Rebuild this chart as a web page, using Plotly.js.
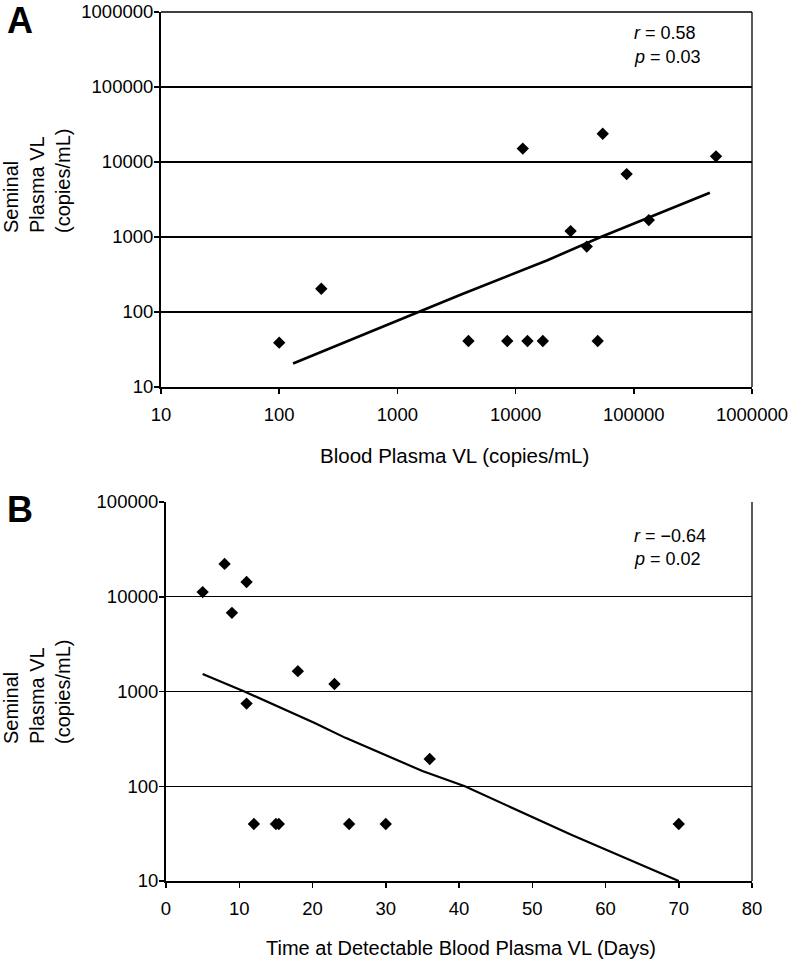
<!DOCTYPE html>
<html>
<head>
<meta charset="utf-8">
<script src="https://cdn.plot.ly/plotly-3.0.1.min.js"></script>
<style>html,body{margin:0;padding:0;background:#fff;}#chart{width:792px;height:961px;}</style>
</head>
<body>
<div id="chart"></div>
<script>
// Panel A: blood plasma VL vs seminal plasma VL
var bloodVL = [100, 227, 3990, 8500, 12600, 17000, 49500, 29200, 40000, 134000, 11500, 54600, 496000, 87000];
var seminalVL_A = [39, 204, 41, 41, 41, 41, 41, 1200, 745, 1680, 15100, 23800, 11900, 6900];
var trendA_x = [131, 1510, 3420, 18600, 52600, 440000];
var trendA_y = [20.6, 100, 170, 490, 1000, 3890];

// Panel B: time at detectable blood plasma VL vs seminal plasma VL
var daysDetectable = [5, 8, 11, 9, 18, 23, 11, 36, 12, 15, 15.4, 25, 30, 70];
var seminalVL_B = [11200, 22200, 14300, 6770, 1640, 1200, 745, 194, 40, 40, 40, 40, 40, 40];
var trendB_x = [5, 10.7, 20.3, 24.5, 35, 40.8, 55.4, 60.2, 70];
var trendB_y = [1530, 1000, 465, 324, 145, 100, 30.5, 21, 10];

var logTicksA = [10, 100, 1000, 10000, 100000, 1000000];
var logTickTextA = ["10", "100", "1000", "10000", "100000", "1000000"];
var logTicksB = [10, 100, 1000, 10000, 100000];
var logTickTextB = ["10", "100", "1000", "10000", "100000"];
var dayTicks = [0, 10, 20, 30, 40, 50, 60, 70, 80];

var W = 792, H = 961;
function px(x){return x / W;}
function py(y){return 1 - y / H;}

var FONT = "Liberation Sans, Arial, sans-serif";
var mk = {symbol: "diamond", size: 9.5, color: "#000"};
var traces = [
  {x: bloodVL, y: seminalVL_A, mode: "markers", type: "scatter", marker: mk, xaxis: "x", yaxis: "y"},
  {x: trendA_x, y: trendA_y, mode: "lines", type: "scatter", line: {color: "#000", width: 2.6}, xaxis: "x", yaxis: "y"},
  {x: daysDetectable, y: seminalVL_B, mode: "markers", type: "scatter", marker: mk, xaxis: "x2", yaxis: "y2"},
  {x: trendB_x, y: trendB_y, mode: "lines", type: "scatter", line: {color: "#000", width: 2.2}, xaxis: "x2", yaxis: "y2"}
];

var axCommon = {
  showline: true, linecolor: "#000", linewidth: 2,
  ticks: "outside", ticklen: 5, tickwidth: 1.5, tickcolor: "#000",
  tickfont: {family: FONT, size: 18.5, color: "#000"},
  ticklabeloverflow: "allow",
  zeroline: false, fixedrange: true
};

function merge(a, b){var o = {}; for (var k in a) o[k] = a[k]; for (var k2 in b) o[k2] = b[k2]; return o;}

var TOP_A = 12;
var layout = {
  width: W, height: H,
  margin: {l: 0, r: 0, t: 0, b: 0},
  paper_bgcolor: "#fff", plot_bgcolor: "#fff",
  showlegend: false,
  font: {family: FONT, size: 18, color: "#000"},
  xaxis: merge(axCommon, {type: "log", range: [0.9999, 6.0001], domain: [px(161), px(752)], anchor: "y",
    tickvals: logTicksA, ticktext: logTickTextA, showgrid: false, ticklabelstandoff: 5}),
  yaxis: merge(axCommon, {type: "log", range: [0.9999, 6.0001], domain: [py(387), py(TOP_A)], anchor: "x",
    tickvals: logTicksA, ticktext: logTickTextA, showgrid: true, gridcolor: "#000", gridwidth: 1.3, ticklabelstandoff: -3}),
  xaxis2: merge(axCommon, {type: "linear", range: [0, 80], domain: [px(166), px(752)], anchor: "y2",
    tickvals: dayTicks, showgrid: false, ticklabelstandoff: 5}),
  yaxis2: merge(axCommon, {type: "log", range: [0.9999, 5.0001], domain: [py(881), py(502)], anchor: "x2",
    tickvals: logTicksB, ticktext: logTickTextB, showgrid: true, gridcolor: "#000", gridwidth: 1.3, ticklabelstandoff: -3}),
  shapes: [
    {type: "line", xref: "paper", yref: "paper", x0: px(752), x1: px(752), y0: py(387), y1: py(TOP_A), line: {color: "#000", width: 1.3}},
    {type: "line", xref: "paper", yref: "paper", x0: px(161), x1: px(752), y0: py(TOP_A), y1: py(TOP_A), line: {color: "#000", width: 1.5}},
    {type: "line", xref: "paper", yref: "paper", x0: px(752), x1: px(752), y0: py(881), y1: py(502), line: {color: "#000", width: 1.3}}
  ],
  annotations: [
    {text: "<b>A</b>", xref: "paper", yref: "paper", x: px(20), y: py(21), showarrow: false, font: {size: 36, family: FONT}, xanchor: "center", yanchor: "middle"},
    {text: "<b>B</b>", xref: "paper", yref: "paper", x: px(20), y: py(510), showarrow: false, font: {size: 36, family: FONT}, xanchor: "center", yanchor: "middle"},
    {text: "<i>r</i> = 0.58", xref: "paper", yref: "paper", x: px(632), y: py(33), showarrow: false, xanchor: "left", yanchor: "middle", font: {size: 18}},
    {text: "<i>p</i> = 0.03", xref: "paper", yref: "paper", x: px(632), y: py(57), showarrow: false, xanchor: "left", yanchor: "middle", font: {size: 18}},
    {text: "<i>r</i> = \u22120.64", xref: "paper", yref: "paper", x: px(632), y: py(536), showarrow: false, xanchor: "left", yanchor: "middle", font: {size: 18}},
    {text: "<i>p</i> = 0.02", xref: "paper", yref: "paper", x: px(632), y: py(559), showarrow: false, xanchor: "left", yanchor: "middle", font: {size: 18}},
    {text: "Blood Plasma VL (copies/mL)", xref: "paper", yref: "paper", x: px(454), y: py(456), showarrow: false, xanchor: "center", yanchor: "middle", font: {size: 20.5}},
    {text: "Time at Detectable Blood Plasma VL (Days)", xref: "paper", yref: "paper", x: px(461), y: py(948), showarrow: false, xanchor: "center", yanchor: "middle", font: {size: 20}},
    {text: "Seminal<br>Plasma VL<br>(copies/mL)", xref: "paper", yref: "paper", x: px(37), y: py(181), textangle: -90, align: "left", showarrow: false, xanchor: "center", yanchor: "middle", font: {size: 20}},
    {text: "Seminal<br>Plasma VL<br>(copies/mL)", xref: "paper", yref: "paper", x: px(37), y: py(692), textangle: -90, align: "left", showarrow: false, xanchor: "center", yanchor: "middle", font: {size: 20}}
  ]
};

Plotly.newPlot("chart", traces, layout, {displayModeBar: false, staticPlot: true});
</script>
</body>
</html>
